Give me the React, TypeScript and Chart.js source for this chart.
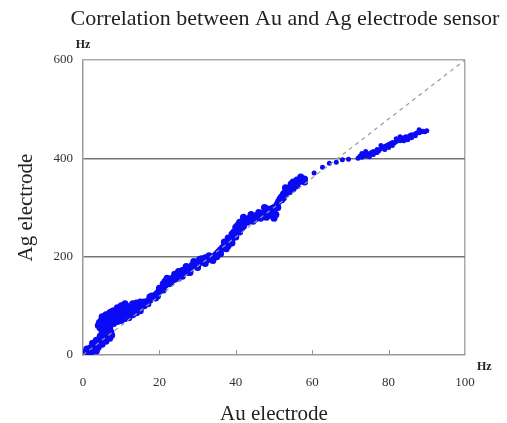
import React, { useEffect, useRef } from "react";
import { Chart, registerables } from "chart.js";

Chart.register(...registerables);

const TITLE = "Correlation between Au and Ag electrode sensor";
const X_TITLE = "Au electrode";
const Y_TITLE = "Ag electrode";
const UNIT = "Hz";
const xTicks = [0, 20, 40, 60, 80, 100];
const yTicks = [0, 200, 400, 600];
const refLineX = [0, 100];
const refLineY = [0, 600];

const auValues = [
  0.3, 0.6, 1, 1.2, 1.5, 1.8, 2, 2.2, 2.5, 2.8, 3, 3.2, 3.5, 3.8, 4, 4.2, 4.5, 4.8, 5, 5.2, 5.5, 5.8, 6, 6.2, 6.5, 6.8, 7, 7.3, 5, 5.5, 4.5, 5, 4.3, 4.8, 5.5, 6, 6.5,
  1, 2, 2.5, 3, 3.5, 4, 4.5, 5, 5.5, 6, 6.5, 7, 7.5, 3.5, 1.5, 6, 5.5, 4, 7,
  4.5, 5, 5.5, 6, 6.5, 7, 7.5, 8, 8.5, 9, 9.5, 10, 10.5, 11, 11.5, 12, 12.5, 13, 13.5, 14, 14.5, 15, 15.5, 16, 6, 7, 8, 9, 10, 11, 12, 7.5, 9, 10, 11.5,
  5, 6, 7, 8, 9, 10, 11, 12, 13, 14, 15, 8, 9, 10, 11, 12, 13, 14, 15, 5.5, 6.5,
  16.5, 17, 17.5, 18, 18.5, 19, 19.5, 20, 20.5, 21, 21.5,
  16, 17, 18, 19, 20, 21, 17.5, 19.5,
  21, 21.5, 22, 22.5, 23, 23.5, 24, 24.5, 25, 25.5, 26, 26.5, 27, 27.5, 28, 28.5, 29, 29.5, 30, 30.5, 31, 31.5, 32, 32.5, 33, 33.5, 34, 34.5, 35, 24, 26, 28, 30, 32,
  22, 23, 24, 25, 26, 27, 28, 29, 30, 31, 32, 33, 34, 35, 22.5, 25, 27.5, 30.5,
  35.5, 36, 36.5, 37, 37.5, 38, 38.5, 39, 39.5, 40, 40.5, 41, 41.5, 42, 40, 41, 42, 39, 38, 42.5,
  36, 37, 38, 39, 40, 40.5, 41, 41.5, 42, 39.5, 37.5,
  43, 43.5, 44, 44.5, 45, 45.5, 46, 46.5, 47, 47.5, 48, 48.5, 49, 49.5, 50, 48, 49, 50, 50.5, 47.5,
  43, 44, 45, 46, 47, 48, 49, 50, 44.5, 46.5,
  50.8, 51.2, 51.6, 52, 52.5, 53, 53.5, 54, 54.5, 55, 55.5, 56, 56.5, 57, 57.5, 58, 53, 55, 56,
  51, 52, 53, 54, 55, 56, 57, 58, 52.5, 54.5,
  60.5, 62.7, 64.5, 66.3, 67.9, 69.5,
  72, 72.5, 73, 73.5, 74, 74.5, 75, 75.5, 76, 76.5, 77, 77.5, 78, 78.5, 79, 79.5, 80, 80.5, 81, 81.5, 82, 82.5, 83, 83.5, 84, 84.5, 85, 85.5, 86, 86.5, 87, 87.5, 88, 88.5, 89, 89.5, 90, 74, 76, 79, 81, 83, 85,
  73, 75, 77, 78, 80, 82, 84, 86, 88, 87,
];

const agValues = [
  2, 5, 8, 3, 12, 9, 15, 6, 18, 12, 20, 16, 24, 19, 28, 22, 30, 26, 34, 29, 36, 32, 40, 35, 44, 38, 42, 47, 45, 50, 55, 60, 66, 70, 72, 55, 52,
  12, 4, 24, 10, 30, 16, 38, 22, 42, 28, 48, 34, 40, 8, 2, 62, 58, 60, 55,
  64, 68, 74, 70, 77, 72, 80, 76, 84, 78, 86, 82, 90, 85, 92, 88, 95, 90, 98, 94, 100, 96, 104, 100, 64, 66, 70, 72, 76, 78, 82, 88, 92, 95, 98,
  78, 82, 86, 90, 96, 100, 104, 98, 104, 106, 108, 64, 68, 70, 74, 76, 82, 86, 90, 62, 60,
  106, 110, 112, 116, 118, 122, 126, 130, 134, 138, 142,
  108, 104, 120, 116, 136, 132, 118, 120,
  145, 150, 147, 152, 155, 153, 158, 160, 162, 165, 166, 170, 172, 175, 178, 182, 183, 184, 186, 188, 189, 191, 192, 194, 195, 197, 198, 202, 206, 154, 172, 172, 180, 198,
  156, 148, 164, 156, 160, 180, 168, 190, 178, 196, 186, 202, 192, 200, 145, 170, 168, 194,
  210, 214, 218, 222, 226, 230, 233, 236, 242, 248, 255, 262, 268, 272, 260, 250, 262, 246, 222, 276,
  206, 230, 238, 228, 240, 264, 270, 258, 280, 250, 216,
  275, 278, 280, 279, 282, 284, 283, 286, 288, 290, 292, 294, 296, 298, 300, 280, 284, 278, 286, 300,
  270, 286, 276, 290, 282, 298, 290, 294, 272, 278,
  306, 312, 318, 322, 328, 332, 336, 340, 342, 345, 348, 350, 352, 355, 357, 358, 326, 338, 356,
  300, 316, 340, 332, 352, 344, 362, 352, 320, 348,
  370, 382, 390, 392, 397, 398,
  400, 404, 402, 407, 405, 410, 408, 412, 414, 412, 418, 416, 420, 422, 424, 426, 428, 430, 432, 431, 434, 438, 436, 440, 442, 444, 443, 446, 448, 446, 450, 452, 452, 454, 455, 454, 456, 414, 408, 418, 426, 444, 438,
  410, 403, 412, 426, 422, 440, 436, 442, 458, 446,
];

const SERIF = "'Liberation Serif', 'Times New Roman', serif";

const decorPlugin = {
  id: "decor",
  afterDraw(chart: any) {
    const ctx = chart.ctx;
    const xs = chart.scales.x;
    const ys = chart.scales.y;
    const area = chart.chartArea;
    ctx.save();
    ctx.strokeStyle = "#999";
    ctx.lineWidth = 1;
    xTicks.slice(1, -1).forEach((v) => {
      const px = Math.round(xs.getPixelForValue(v)) + 0.5;
      ctx.beginPath();
      ctx.moveTo(px, area.bottom);
      ctx.lineTo(px, area.bottom - 5);
      ctx.stroke();
    });
    ctx.fillStyle = "#222";
    ctx.font = `22px ${SERIF}`;
    ctx.textAlign = "center";
    ctx.textBaseline = "alphabetic";
    ctx.fillText(TITLE, 285, 25);
    ctx.font = `21px ${SERIF}`;
    ctx.fillText(X_TITLE, (area.left + area.right) / 2, 420);
    ctx.save();
    ctx.translate(32, (ys.getPixelForValue(200) + ys.getPixelForValue(400)) / 2);
    ctx.rotate(-Math.PI / 2);
    ctx.fillText(Y_TITLE, 0, 0);
    ctx.restore();
    ctx.font = `bold 12px ${SERIF}`;
    ctx.textBaseline = "middle";
    ctx.fillText(UNIT, area.left, 45);
    ctx.textAlign = "left";
    ctx.fillText(UNIT, area.right + 12, 367);
    ctx.restore();
  },
};

export default function App() {
  const ref = useRef<HTMLCanvasElement | null>(null);
  useEffect(() => {
    if (!ref.current) return;
    const scatterData = auValues.map((x, i) => ({ x, y: agValues[i] }));
    const lineData = refLineX.map((x, i) => ({ x, y: refLineY[i] }));
    const chart = new Chart(ref.current, {
      type: "scatter",
      data: {
        datasets: [
          {
            label: "Au vs Ag",
            data: scatterData,
            backgroundColor: "rgb(10,10,245)",
            borderColor: "rgb(10,10,245)",
            pointRadius: (c: any) => (c.raw && c.raw.x > 59 ? 2.5 : 3.5),
            pointStyle: "circle",
            borderWidth: 0,
            order: 2,
          } as any,
          {
            type: "line",
            label: "y=6x",
            data: lineData,
            borderColor: "#999",
            borderWidth: 1.2,
            borderDash: [4, 4],
            pointRadius: 0,
            fill: false,
            order: 1,
          } as any,
        ],
      },
      options: {
        animation: false,
        responsive: false,
        layout: { padding: { left: 43, right: 42, top: 60, bottom: 28 } },
        plugins: { legend: { display: false }, tooltip: { enabled: false }, title: { display: false } },
        scales: {
          x: {
            type: "linear",
            min: 0,
            max: 100,
            afterFit: (s: any) => {
              s.height = 40;
            },
            afterBuildTicks: (s: any) => {
              s.ticks = xTicks.map((v) => ({ value: v }));
            },
            ticks: { padding: 20, color: "#333", font: { family: SERIF, size: 13 }, maxRotation: 0 },
            grid: {
              drawTicks: false,
              lineWidth: 1.5,
              color: (c: any) => (c.tick && c.tick.value === 100 ? "#aaa" : "rgba(0,0,0,0)"),
            },
            border: { display: true, color: "#999", width: 1.5 },
          },
          y: {
            type: "linear",
            min: 0,
            max: 600,
            afterFit: (s: any) => {
              s.width = 40;
            },
            afterBuildTicks: (s: any) => {
              s.ticks = yTicks.map((v) => ({ value: v }));
            },
            ticks: { padding: 10, color: "#333", font: { family: SERIF, size: 13 } },
            grid: {
              drawTicks: false,
              lineWidth: 1.5,
              color: (c: any) => {
                const v = c.tick && c.tick.value;
                if (v === 200 || v === 400) return "#777";
                if (v === 600) return "#aaa";
                return "rgba(0,0,0,0)";
              },
            },
            border: { display: true, color: "#999", width: 1.5 },
          },
        },
      },
      plugins: [decorPlugin],
    });
    return () => chart.destroy();
  }, []);
  return (
    <div style={{ position: "absolute", left: 0, top: 0, width: 507, height: 423, background: "#fff" }}>
      <canvas ref={ref} width={507} height={423} style={{ display: "block" }} />
    </div>
  );
}
